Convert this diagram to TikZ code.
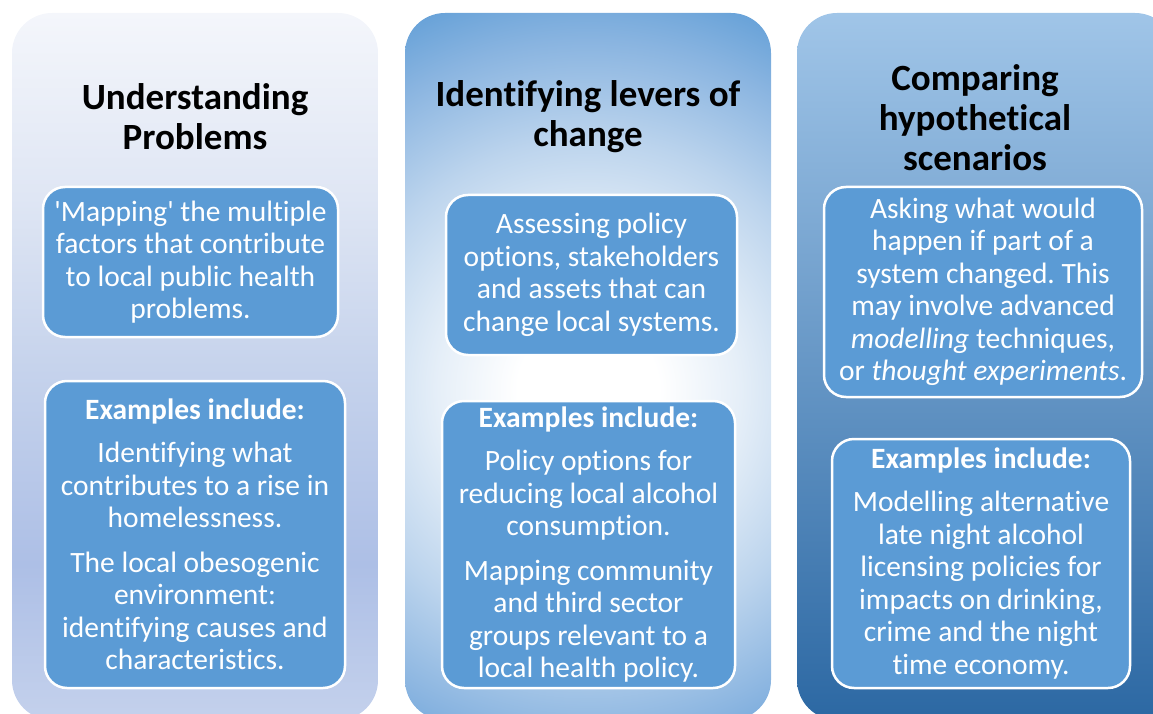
\documentclass[tikz,border=0pt]{standalone}
\usepackage{fontspec}
\setmainfont{Carlito}[Ligatures=NoCommon]
\newfontfamily\plainq{Carlito}[Ligatures=NoCommon]
\definecolor{boxblue}{HTML}{5B9BD5}
\definecolor{cAtop}{HTML}{F4F6FB}
\definecolor{cAmidA}{HTML}{DFE6F4}
\definecolor{cAmid}{HTML}{C6D3EC}
\definecolor{cAlav}{HTML}{ADBFE6}
\definecolor{cAbot}{HTML}{C4D1EC}
\definecolor{cBout}{HTML}{5B9BD5}
\definecolor{cBa}{HTML}{E6EFF8}
\definecolor{cBb}{HTML}{BCD4ED}
\definecolor{cBc}{HTML}{89B4E0}
\definecolor{cCtop}{HTML}{A0C5E8}
\definecolor{cCbot}{HTML}{2C68A3}
\pgfdeclareverticalshading{colAshade}{100bp}{color(0bp)=(cAbot); color(25bp)=(cAbot); color(36bp)=(cAlav); color(50bp)=(cAmid); color(62bp)=(cAmidA); color(75bp)=(cAtop); color(100bp)=(cAtop)}
\pgfdeclareradialshading{colBshade}{\pgfpoint{0bp}{0bp}}{color(0bp)=(white); color(4bp)=(white); color(8.5bp)=(cBa); color(14.2bp)=(cBb); color(19.9bp)=(cBc); color(24.5bp)=(cBout); color(50bp)=(cBout)}
\tikzset{
  colbox/.style={rounded corners=40pt},
  inbox/.style={fill=boxblue, draw=white, line width=2.5pt, rounded corners=22pt,
    text=white, align=center, inner sep=0pt, font=\fontsize{29.5}{32.5}\selectfont},
  titletext/.style={align=center, text=black, inner sep=0pt, font=\fontsize{37}{40}\selectfont\bfseries}
}
\frenchspacing
\begin{document}
\begin{tikzpicture}[x=1pt,y=-1pt]
\useasboundingbox (0,0) rectangle (1153,714);
% column backgrounds
\shade[shading=colAshade, colbox] (12,13) rectangle (378,720);
\begin{scope}
\clip[colbox] (405,13) rectangle (771,720);
\shade[shading=colBshade] (588,390) circle (440pt);
\end{scope}
\shade[top color=cCtop, bottom color=cCbot, colbox] (797,13) rectangle (1175,720);
% titles
\node[titletext] (t1) at (195,117) {Understanding\\Problems};
\node[titletext] (t2) at (588,117) {Identifying levers of\\change};
\node[titletext] (t3) at (975,118) {Comparing\\hypothetical\\scenarios};
% column 1
\node[inbox, minimum width=295pt, minimum height=150pt] (a1) at (190.5,262)
 {{\plainq'}Mapping{\plainq'} the multiple\\factors that contribute\\to local public health\\problems.};
\node[inbox, minimum width=300pt, minimum height=307pt] (a2) at (195,534.5)
 {\textbf{Examples include:}\\[11pt]Identifying what\\contributes to a rise in\\homelessness.\\[12pt]The local obesogenic\\environment:\\identifying causes and\\characteristics.};
% column 2
\node[inbox, minimum width=291pt, minimum height=160pt] (b1) at (591.5,275)
 {Assessing policy\\options, stakeholders\\and assets that can\\change local systems.};
\node[inbox, minimum width=293pt, minimum height=287pt] (b2) at (588.5,544.5)
 {\textbf{Examples include:}\\[11pt]Policy options for\\reducing local alcohol\\consumption.\\[12pt]Mapping community\\and third sector\\groups relevant to a\\local health policy.};
% column 3
\node[inbox, minimum width=318pt, minimum height=210pt] (c1) at (983,292)
 {Asking what would\\happen if part of a\\system changed. This\\may involve advanced\\\textit{modelling} techniques,\\or \textit{thought experiments}.};
\node[inbox, minimum width=298pt, minimum height=249pt] (c2) at (981,563.5)
 {\textbf{Examples include:}\\[11pt]Modelling alternative\\late night alcohol\\licensing policies for\\impacts on drinking,\\crime and the night\\time economy.};
\end{tikzpicture}
\end{document}
